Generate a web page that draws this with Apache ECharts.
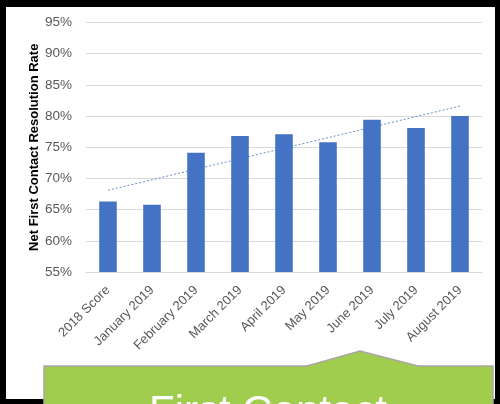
<!DOCTYPE html>
<html>
<head>
<meta charset="utf-8">
<script src="https://cdn.jsdelivr.net/npm/echarts@6/dist/echarts.min.js"></script>
<style>
html,body{margin:0;padding:0;background:#000;}
#chart{width:500px;height:404px;}
</style>
</head>
<body>
<div id="chart"></div>
<script>
const categories = ['2018 Score','January 2019','February 2019','March 2019','April 2019','May 2019','June 2019','July 2019','August 2019'];
const rateValues = [66.3, 65.8, 74.1, 76.8, 77.1, 75.8, 79.4, 78.1, 80.0];
const trendEnds = [68.1, 81.6];
const yTicks = {min: 55, max: 95, step: 5};
const yAxisTitle = 'Net First Contact Resolution Rate';
const calloutText = 'First Contact';

const chart = echarts.init(document.getElementById('chart'), null, {renderer: 'canvas'});
chart.setOption({
  backgroundColor: '#000',
  animation: false,
  graphic: [
    {type: 'rect', z: -10, shape: {x: 6, y: 7, width: 489, height: 392}, style: {fill: '#fff'}},
    {type: 'polygon', z: 100,
     shape: {points: [[44,366],[307,366],[360,351],[418,366],[493,366],[493,420],[44,420]]},
     style: {fill: '#a0cd4e', stroke: '#a6a6a6', lineWidth: 1.5}},
    {type: 'text', z: 101, x: 268, y: 392,
     style: {text: calloutText, fill: '#fff', font: '42px "Liberation Sans", sans-serif',
             textAlign: 'center', textVerticalAlign: 'top',
             shadowColor: 'rgba(0,0,0,0.35)', shadowBlur: 2, shadowOffsetX: 1, shadowOffsetY: 1}}
  ],
  grid: {left: 86, right: 18, top: 22.5, bottom: 132, containLabel: false},
  xAxis: {
    type: 'category',
    data: categories,
    axisLine: {lineStyle: {color: '#d9d9d9', width: 1}},
    axisTick: {show: false},
    axisLabel: {rotate: 45, color: '#595959', fontSize: 13, fontFamily: '"Liberation Sans", sans-serif', margin: 16, interval: 0}
  },
  yAxis: {
    type: 'value',
    min: yTicks.min, max: yTicks.max, interval: yTicks.step,
    name: yAxisTitle,
    nameLocation: 'middle',
    nameRotate: 90,
    nameGap: 45,
    nameMoveOverlap: false,
    nameTextStyle: {color: '#000', fontSize: 13, fontWeight: 'bold', fontFamily: '"Liberation Sans", sans-serif'},
    axisLine: {show: false},
    axisTick: {show: false},
    splitLine: {lineStyle: {color: '#d9d9d9', width: 1}},
    axisLabel: {formatter: '{value}%', color: '#595959', fontSize: 13.5, fontFamily: '"Liberation Sans", sans-serif', margin: 14}
  },
  series: [{
    type: 'bar',
    data: rateValues,
    barWidth: '40%',
    itemStyle: {color: '#4472c4'},
    markLine: {
      silent: true,
      symbol: 'none',
      label: {show: false},
      lineStyle: {color: '#4472c4', type: [2, 2], width: 1, opacity: 0.8},
      data: [[{coord: [categories[0], trendEnds[0]]}, {coord: [categories[categories.length - 1], trendEnds[1]]}]]
    }
  }]
});
</script>
</body>
</html>
